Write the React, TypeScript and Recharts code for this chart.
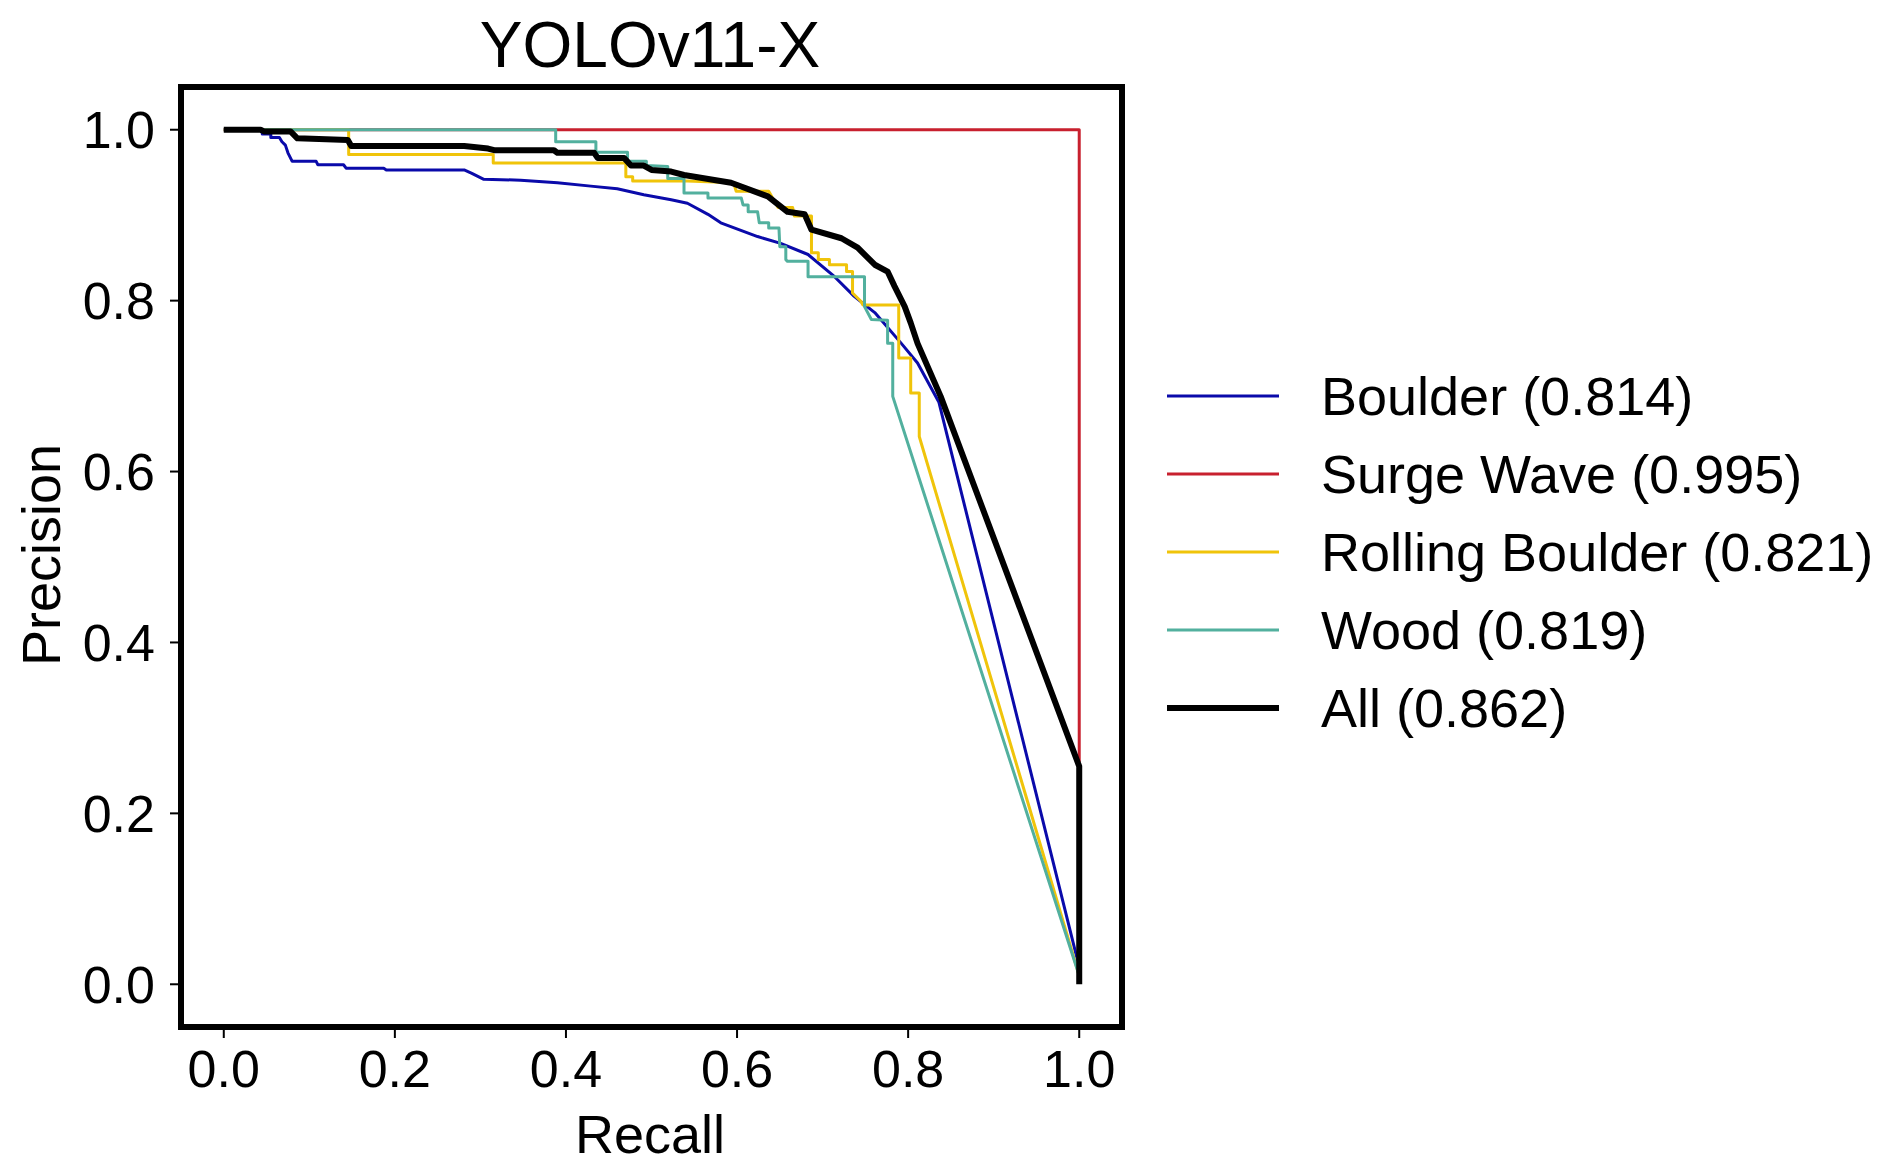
import { LineChart, Line, XAxis, YAxis, ReferenceArea } from "recharts";

const FONT = '"Liberation Sans", Arial, Helvetica, sans-serif';

const TITLE = "YOLOv11-X";
const X_LABEL = "Recall";
const Y_LABEL = "Precision";
const AXIS_TICKS = [0, 0.2, 0.4, 0.6, 0.8, 1.0];

// [recall, precision]
const boulder: [number, number][] = [
    [0, 1.0], [0.045, 1.0], [0.045, 0.995], [0.055, 0.995], [0.055, 0.991], [0.065, 0.991],
    [0.068, 0.986], [0.072, 0.982], [0.075, 0.973], [0.08, 0.963], [0.108, 0.963], [0.11, 0.959],
    [0.14, 0.959], [0.143, 0.955], [0.187, 0.955], [0.19, 0.953], [0.281, 0.953], [0.29, 0.949],
    [0.304, 0.942], [0.347, 0.941], [0.39, 0.938], [0.429, 0.934], [0.46, 0.931], [0.491, 0.924],
    [0.523, 0.918], [0.542, 0.914], [0.566, 0.901], [0.581, 0.891], [0.624, 0.875], [0.651, 0.867],
    [0.683, 0.854], [0.714, 0.828], [0.737, 0.805], [0.761, 0.786], [0.792, 0.75], [0.811, 0.727],
    [0.836, 0.681], [1.0, 0.02],
];

const surgeWave: [number, number][] = [
    [0, 1.0], [1.0, 1.0], [1.0, 0.26],
];

const rollingBoulder: [number, number][] = [
    [0, 1.0], [0.146, 1.0], [0.146, 0.971], [0.315, 0.971], [0.315, 0.961], [0.47, 0.961],
    [0.47, 0.945], [0.478, 0.945], [0.478, 0.94], [0.542, 0.94], [0.596, 0.938], [0.599, 0.928],
    [0.637, 0.928], [0.648, 0.909], [0.665, 0.909], [0.667, 0.899], [0.687, 0.899], [0.687, 0.856],
    [0.695, 0.856], [0.695, 0.848], [0.708, 0.848], [0.708, 0.842], [0.728, 0.842], [0.728, 0.834],
    [0.735, 0.834], [0.735, 0.809], [0.745, 0.799], [0.747, 0.795], [0.789, 0.795], [0.789, 0.733],
    [0.803, 0.733], [0.803, 0.692], [0.813, 0.692], [0.813, 0.641], [1.0, 0.01],
];

const wood: [number, number][] = [
    [0, 1.0], [0.388, 1.0], [0.388, 0.986], [0.435, 0.986], [0.435, 0.9735], [0.472, 0.9735],
    [0.472, 0.963], [0.494, 0.963], [0.494, 0.958], [0.519, 0.957], [0.519, 0.943], [0.538, 0.943],
    [0.538, 0.926], [0.566, 0.926], [0.566, 0.92], [0.605, 0.92], [0.607, 0.912], [0.613, 0.912],
    [0.613, 0.904], [0.624, 0.904], [0.626, 0.891], [0.637, 0.891], [0.637, 0.885], [0.649, 0.885],
    [0.65, 0.863], [0.657, 0.863], [0.657, 0.848], [0.659, 0.846], [0.683, 0.846], [0.683, 0.828],
    [0.749, 0.828], [0.749, 0.793], [0.757, 0.778], [0.776, 0.777], [0.776, 0.75], [0.782, 0.75],
    [0.782, 0.688], [1.0, 0.01],
];

const all: [number, number][] = [
    [0, 1.0], [0.043, 1.0], [0.047, 0.998], [0.078, 0.998], [0.086, 0.99], [0.145, 0.988],
    [0.149, 0.981], [0.281, 0.981], [0.309, 0.978], [0.316, 0.976], [0.386, 0.976], [0.39, 0.973],
    [0.433, 0.973], [0.437, 0.967], [0.468, 0.967], [0.476, 0.958], [0.491, 0.958], [0.5, 0.953],
    [0.523, 0.951], [0.538, 0.947], [0.593, 0.938], [0.636, 0.922], [0.659, 0.904], [0.679, 0.901],
    [0.687, 0.883], [0.722, 0.873], [0.741, 0.862], [0.761, 0.842], [0.776, 0.834], [0.784, 0.817],
    [0.796, 0.793], [0.803, 0.774], [0.811, 0.75], [0.838, 0.688], [1.0, 0.255], [1.0, 0.0],
];

const SERIES = [
    { name: "Boulder", ap: "0.814", color: "#0a0aaa", width: 3, points: boulder },
    { name: "Surge Wave", ap: "0.995", color: "#c8202e", width: 3, points: surgeWave },
    { name: "Rolling Boulder", ap: "0.821", color: "#f0c40a", width: 3, points: rollingBoulder },
    { name: "Wood", ap: "0.819", color: "#52b09e", width: 3, points: wood },
    { name: "All", ap: "0.862", color: "#000000", width: 6, points: all },
];

const toRows = (pts: [number, number][]) => pts.map(([x, y]) => ({ x, y }));

const W = 1892;
const H = 1172;

export default function App() {
    const tickStyle = { fill: "#000", fontSize: 52, fontFamily: FONT };
    return (
        <div style={{ position: "absolute", left: 0, top: 0, width: W, height: H, background: "#fff" }}>
            <LineChart width={W} height={H} margin={{ top: 87, right: 770, bottom: 45, left: 61 }}>
                <XAxis
                    type="number"
                    dataKey="x"
                    domain={[-0.05, 1.05]}
                    ticks={AXIS_TICKS}
                    tickFormatter={(v: number) => v.toFixed(1)}
                    axisLine={false}
                    tickLine={{ stroke: "#000", strokeWidth: 2 }}
                    tickSize={11}
                    tickMargin={12}
                    tick={tickStyle}
                    height={100}
                    allowDataOverflow
                />
                <YAxis
                    type="number"
                    domain={[-0.05, 1.05]}
                    ticks={AXIS_TICKS}
                    tickFormatter={(v: number) => v.toFixed(1)}
                    axisLine={false}
                    tickLine={{ stroke: "#000", strokeWidth: 2 }}
                    tickSize={11}
                    tickMargin={15}
                    tick={tickStyle}
                    width={120}
                    allowDataOverflow
                />
                {SERIES.map((s) => (
                    <Line
                        key={s.name}
                        data={toRows(s.points)}
                        dataKey="y"
                        type="linear"
                        stroke={s.color}
                        strokeWidth={s.width}
                        strokeLinejoin="round"
                        dot={false}
                        activeDot={false}
                        isAnimationActive={false}
                    />
                ))}
                <ReferenceArea
                    x1={-0.05}
                    x2={1.05}
                    y1={-0.05}
                    y2={1.05}
                    fill="none"
                    fillOpacity={0}
                    stroke="#000"
                    strokeWidth={6}
                    ifOverflow="visible"
                />
            </LineChart>
            <svg
                width={W}
                height={H}
                style={{ position: "absolute", left: 0, top: 0, pointerEvents: "none" }}
                fontFamily={FONT}
            >
                <text x={650} y={67} textAnchor="middle" fontSize={64} fill="#000">{TITLE}</text>
                <text x={650} y={1153} textAnchor="middle" fontSize={54} fill="#000">{X_LABEL}</text>
                <text transform="translate(60,555) rotate(-90)" textAnchor="middle" fontSize={54} fill="#000">
                    {Y_LABEL}
                </text>
                {SERIES.map((s, i) => {
                    const cy = 396 + i * 78;
                    return (
                        <g key={s.name}>
                            <line x1={1167} x2={1279} y1={cy} y2={cy} stroke={s.color} strokeWidth={s.width} />
                            <text x={1321} y={cy + 19} fontSize={54} fill="#000">
                                {`${s.name} (${s.ap})`}
                            </text>
                        </g>
                    );
                })}
            </svg>
        </div>
    );
}
